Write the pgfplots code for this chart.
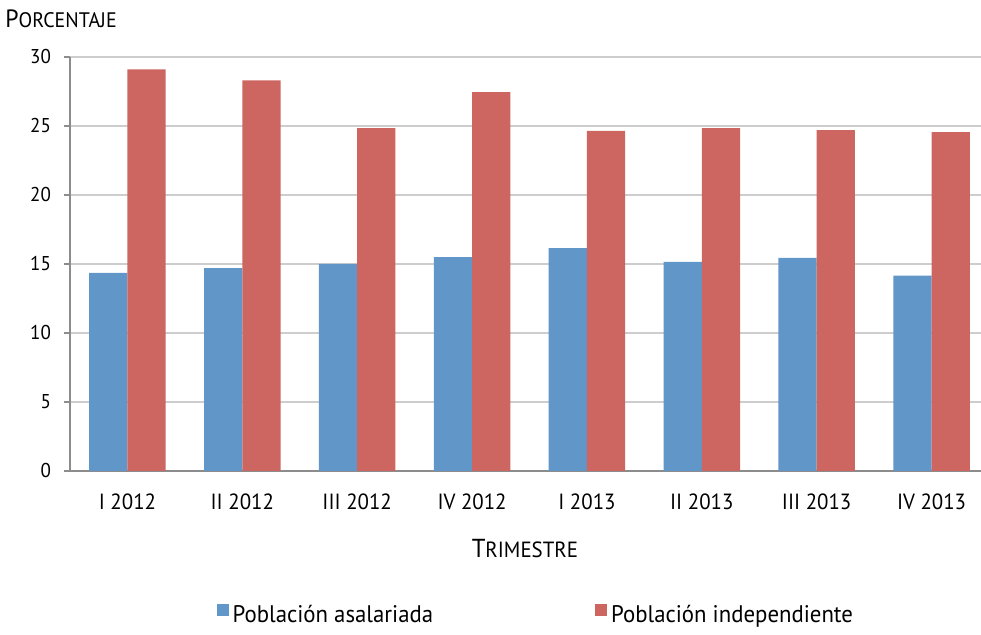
\documentclass[border=0pt]{standalone}
\usepackage{pgfplots}
\pgfplotsset{compat=1.18}
\usepackage{fontspec}
\setmainfont[FakeStretch=0.95]{PT Sans}
\definecolor{cblue}{RGB}{97,150,201}
\definecolor{cred}{RGB}{205,102,96}
\definecolor{cgrid}{RGB}{205,205,205}
\definecolor{caxis}{RGB}{140,140,140}
\begin{document}
\begin{tikzpicture}
\begin{axis}[
  at={(0,0)}, anchor=south west,
  scale only axis,
  width=459.5pt, height=207pt,
  xmin=-0.5, xmax=7.5,
  ymin=0, ymax=30,
  ytick={0,5,...,30},
  ymajorgrids, grid style={cgrid, line width=0.6pt},
  axis x line*=bottom, axis y line*=left,
  axis line style={caxis, line width=0.8pt},
  tick style={caxis, line width=0.8pt},
  y tick label style={font=\fontsize{10}{12}\selectfont, xshift=-3pt},
  x tick label style={font=\fontsize{11}{13}\selectfont, yshift=-5pt},
  ytick align=outside, major tick length=3pt,
  xtick={0,...,7},
  xticklabels={I 2012, II 2012, III 2012, IV 2012, I 2013, II 2013, III 2013, IV 2013},
  x tick style={draw=none},
  extra x ticks={-0.5,0.5,...,7.5},
  extra x tick labels={},
  extra x tick style={tick style={caxis, line width=0.8pt, draw=caxis}, xtick align=outside, major tick length=3pt, grid=none},
  /pgf/number format/assume math mode=true,
  xlabel={{\fontsize{13}{15}\selectfont T}{\fontsize{11}{13}\selectfont RIMESTRE}},
  xlabel style={at={(rel axis cs:0.495,0)}, anchor=base, yshift=-43.5pt},
  legend style={at={(rel axis cs:0.508,0)}, anchor=north, yshift=-63pt, draw=none, fill=none,
    legend columns=2, font=\fontsize{12}{14}\selectfont,
    /tikz/every even column/.append style={column sep=79pt}},
  legend cell align=left,
  ybar, bar width=0.3333,
  legend image code/.code={\fill[#1] (0pt,0pt) rectangle (6pt,6pt);},
]
\addplot[fill=cblue, draw=none, bar shift=-0.16667] coordinates {
  (0,14.35) (1,14.7) (2,15.0) (3,15.5) (4,16.15) (5,15.15) (6,15.45) (7,14.15)};
\addlegendentry{Población asalariada}
\addplot[fill=cred, draw=none, bar shift=0.16667] coordinates {
  (0,29.1) (1,28.3) (2,24.85) (3,27.45) (4,24.65) (5,24.85) (6,24.7) (7,24.55)};
\addlegendentry{Población independiente}
\end{axis}
\node[anchor=base west, inner sep=0pt] at (-32.5pt,221.5pt) {{\fontsize{12.5}{14}\selectfont P}{\fontsize{10.5}{12}\selectfont ORCENTAJE}};
\pgfresetboundingbox
\path[use as bounding box] (-35pt,-82pt) rectangle (455.5pt,235.5pt);
\end{tikzpicture}
\end{document}
